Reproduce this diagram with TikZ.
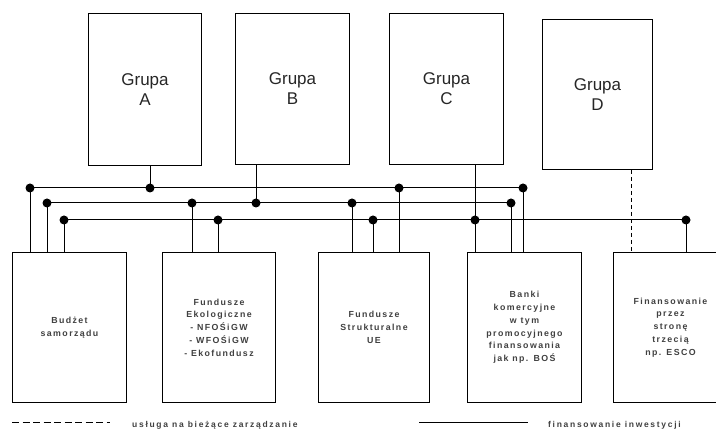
\documentclass[tikz,border=0pt]{standalone}
\usepackage{fontspec}
\setmainfont{Liberation Sans}
\newfontfamily\lblfont[LetterSpace=16]{Liberation Sans}
\newfontfamily\keyfont[LetterSpace=20]{Liberation Sans}
\begin{document}
\begin{tikzpicture}[x=1pt,y=-1pt,
  box/.style={draw, line width=1pt, inner sep=0pt, align=center, anchor=north west},
  grp/.style={box, font=\fontsize{17}{20}\selectfont, text=black!85},
  inst/.style={box, minimum height=150pt, font=\lblfont\bfseries\fontsize{8.8}{12.8}\selectfont, text=black!75},
  wire/.style={line width=1pt},
  plan/.style={line width=1pt, dash pattern=on 4pt off 3pt},
  jn/.style={circle, fill=black, inner sep=0pt, minimum size=9pt},
  legend/.style={font=\keyfont\bfseries\fontsize{8.5}{10}\selectfont, text=black!75, anchor=west, inner sep=0pt}]
\useasboundingbox (0,0) rectangle (716,430);

% groups
\node[grp, minimum width=113pt, minimum height=152pt] (gA) at (88,13) {Grupa\\A};
\node[grp, minimum width=114pt, minimum height=151pt] (gB) at (235,13) {Grupa\\B};
\node[grp, minimum width=114pt, minimum height=151pt] (gC) at (389,13) {Grupa\\C};
\node[grp, minimum width=110pt, minimum height=150pt] (gD) at (542,19) {Grupa\\D};

% financing sources
\node[inst, minimum width=114pt] (b1) at (12,252) {Budżet\\samorządu};
\node[inst, minimum width=113pt] (b2) at (162,252) {Fundusze\\Ekologiczne\\- NFOŚiGW\\- WFOŚiGW\\- Ekofundusz};
\node[inst, minimum width=111pt] (b3) at (318,252) {Fundusze\\Strukturalne\\UE};
\node[inst, minimum width=114pt] (b4) at (467,252) {Banki\\komercyjne\\w tym\\promocyjnego\\finansowania\\jak np. BOŚ};
\node[inst, minimum width=114pt] (b5) at (613,252) {Finansowanie\\przez\\stronę\\trzecią\\np. ESCO};

% bus junctions
\coordinate (p1) at (30,188);  \coordinate (p2) at (150,188);
\coordinate (p3) at (399,188); \coordinate (p4) at (523,188);
\coordinate (q1) at (47,203);  \coordinate (q2) at (192,203);
\coordinate (q3) at (256,203); \coordinate (q4) at (352,203);
\coordinate (q5) at (511,203);
\coordinate (r1) at (64,220);  \coordinate (r2) at (218,220);
\coordinate (r3) at (373,220); \coordinate (r4) at (475,220);
\coordinate (r5) at (686,220);

% buses
\draw[wire] (p1) -- (p4);
\draw[wire] (q1) -- (q5);
\draw[wire] (r1) -- (r5);

% group feeds
\draw[wire] (p2 |- gA.south) -- (p2);
\draw[wire] (q3 |- gB.south) -- (q3);
\draw[wire] (r4 |- gC.south) -- (r4 |- b4.north);
\draw[plan] (631,0 |- gD.south) -- (631,0 |- b5.north);

% drops to sources
\draw[wire] (p1) -- (p1 |- b1.north);
\draw[wire] (q1) -- (q1 |- b1.north);
\draw[wire] (r1) -- (r1 |- b1.north);
\draw[wire] (q2) -- (q2 |- b2.north);
\draw[wire] (r2) -- (r2 |- b2.north);
\draw[wire] (p3) -- (p3 |- b3.north);
\draw[wire] (q4) -- (q4 |- b3.north);
\draw[wire] (r3) -- (r3 |- b3.north);
\draw[wire] (p4) -- (p4 |- b4.north);
\draw[wire] (q5) -- (q5 |- b4.north);
\draw[wire] (r5) -- (r5 |- b5.north);

% junction dots
\foreach \c in {p1,p2,p3,p4,q1,q2,q3,q4,q5,r1,r2,r3,r4,r5}
  \node[jn] at (\c) {};

% legend
\coordinate (d1) at (12,423);  \coordinate (d2) at (110,423);
\coordinate (s1) at (419,423); \coordinate (s2) at (528,423);
\draw[line width=1pt, dash pattern=on 7pt off 3.5pt] (d1) -- (d2);
\draw[wire] (s1) -- (s2);
\node[legend] (t1) at (132,425) {usługa na bieżące zarządzanie};
\node[legend] (t2) at (548,425) {finansowanie inwestycji};
\end{tikzpicture}
\end{document}
